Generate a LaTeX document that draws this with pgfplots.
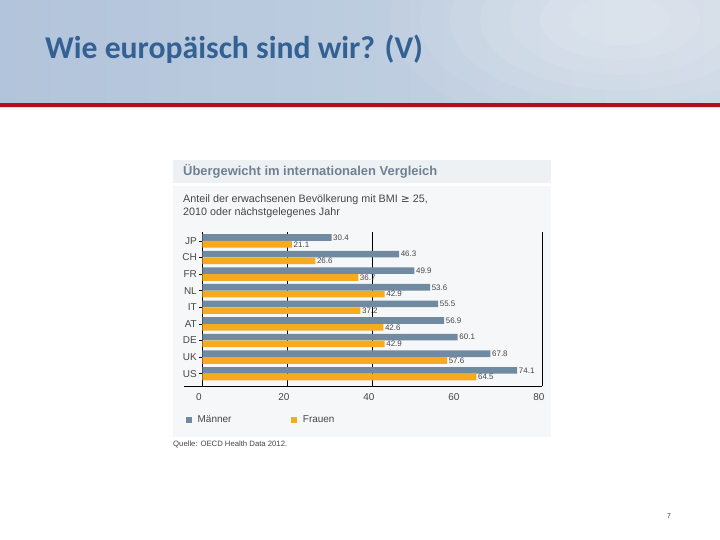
\documentclass[border=0pt]{standalone}
\usepackage{fontspec}
\setmainfont{Liberation Sans}
\newfontfamily\titlefont{Carlito}
\newfontfamily\symfont{DejaVu Sans}
\usepackage{pgfplots}
\pgfplotsset{compat=1.18}
\definecolor{menc}{RGB}{112,138,162}
\definecolor{womc}{RGB}{245,170,32}
\definecolor{titlec}{RGB}{52,97,148}
\definecolor{skyL}{RGB}{178,196,219}
\definecolor{skyR}{RGB}{200,213,228}
\definecolor{redline}{RGB}{178,16,24}
\definecolor{hdrc}{RGB}{238,241,243}
\definecolor{panelc}{RGB}{246,247,248}
\definecolor{hdrtxt}{RGB}{110,128,146}
\definecolor{txtc}{RGB}{70,70,70}
\pgfplotstableread{
idx men women
8 30.4 21.1
7 46.3 26.6
6 49.9 36.7
5 53.6 42.9
4 55.5 37.2
3 56.9 42.6
2 60.1 42.9
1 67.8 57.6
0 74.1 64.5
}\obdata
\begin{document}
\begin{tikzpicture}[x=1bp,y=1bp]
\useasboundingbox (0,0) rectangle (720,540);
\fill[white] (0,0) rectangle (720,540);
% banner
\shade[left color=skyL, right color=skyR] (0,436) rectangle (720,540);
\begin{scope}
\clip (0,436) rectangle (720,540);
\foreach \r/\o in {230/0.06,200/0.06,170/0.07,140/0.08,110/0.08,80/0.09,50/0.09} {
  \fill[white, opacity=\o] (620,520) ellipse ({\r} and {0.5*\r});
}
\end{scope}
\fill[redline] (0,433) rectangle (720,436.5);
\fill[black!12] (0,431.5) rectangle (720,433);
\node[anchor=base west, inner sep=0, text=titlec, font=\titlefont\bfseries\fontsize{31.8}{36}\selectfont] at (45,481) {Wie europäisch sind wir? (V)};
% chart panel
\fill[hdrc] (173,357) rectangle (551,380);
\fill[panelc] (173,103) rectangle (551,354);
\node[anchor=west, inner sep=0, text=hdrtxt, font=\bfseries\fontsize{13}{15}\selectfont] at (183,368.5) {Übergewicht im internationalen Vergleich};
\node[anchor=north west, inner sep=0, text=txtc, align=left, font=\fontsize{10.8}{13}\selectfont] at (183,345.5) {Anteil der erwachsenen Bevölkerung mit BMI {\symfont≥} 25,\\2010 oder nächstgelegenes Jahr};
\node[anchor=west, inner sep=0, text=txtc, font=\fontsize{7.75}{9}\selectfont] at (173,96) {Quelle: OECD Health Data 2012.};
\node[anchor=center, inner sep=0, text=black!80, font=\fontsize{7}{8}\selectfont] at (669,24) {7};
\draw[black, line width=0.9bp] (184,154) -- (202.3,154);
\begin{axis}[
  at={(202.3bp,154bp)}, anchor=south west,
  scale only axis, width=340bp, height=154bp,
  xmin=0, xmax=80, ymin=-0.74, ymax=8.536,
  axis x line*=bottom, axis y line*=left,
  axis line style={black, line width=0.9bp, -},
  xtick={0,20,40,60,80},
  xtick style={draw=none},
  ytick={0,...,8},
  yticklabels={US,UK,DE,AT,IT,NL,FR,CH,JP},
  ytick style={black, line width=0.6bp},
  tick align=outside,
  major tick length=3bp,
  /pgf/number format/assume math mode=true,
  x tick label style={font=\fontsize{10}{12}\selectfont, text=txtc, xshift=-3.5bp, yshift=-1bp},
  y tick label style={font=\fontsize{10}{12}\selectfont, text=txtc, xshift=1bp},
  clip=false,
  legend style={at={(-0.048,-0.22)}, anchor=west, draw=none, fill=none, inner sep=0pt,
    font=\fontsize{10}{12}\selectfont, text=txtc, legend columns=2,
    /tikz/every even column/.append style={column sep=58bp}},
  legend cell align=left,
]
\draw[black, line width=0.6bp] (axis cs:20,-0.74) -- (axis cs:20,8.536);
\draw[black, line width=0.6bp] (axis cs:40,-0.74) -- (axis cs:40,8.536);
\draw[black, line width=0.9bp] (axis cs:80,-0.74) -- (axis cs:80,8.536);
\addlegendimage{legend image code/.code={\fill[menc, draw=none] (0bp,-2.8bp) rectangle (5.5bp,2.8bp); \path[draw=none, fill=none] (0bp,-1bp) rectangle (9.5bp,1bp);}}
\addlegendentry{Männer}
\addlegendimage{legend image code/.code={\fill[womc, draw=none] (0bp,-2.8bp) rectangle (5.5bp,2.8bp); \path[draw=none, fill=none] (0bp,-1bp) rectangle (9.5bp,1bp);}}
\addlegendentry{Frauen}
\addplot[xbar, forget plot, fill=menc, draw=none, bar width=6.6bp, bar shift=3.4bp,
  point meta=x, nodes near coords={\pgfmathprintnumber[fixed,fixed zerofill,precision=1]{\pgfplotspointmeta}},
  nodes near coords style={anchor=west, font=\fontsize{8}{9}\selectfont, text=txtc, inner sep=1.5bp, yshift=3.4bp}]
  table[x=men, y=idx] {\obdata};
\addplot[xbar, forget plot, fill=womc, draw=none, bar width=6.6bp, bar shift=-3.4bp,
  point meta=x, nodes near coords={\pgfmathprintnumber[fixed,fixed zerofill,precision=1]{\pgfplotspointmeta}},
  nodes near coords style={anchor=west, font=\fontsize{8}{9}\selectfont, text=txtc, inner sep=1.5bp, yshift=-3.4bp}]
  table[x=women, y=idx] {\obdata};
\end{axis}
\end{tikzpicture}
\end{document}
